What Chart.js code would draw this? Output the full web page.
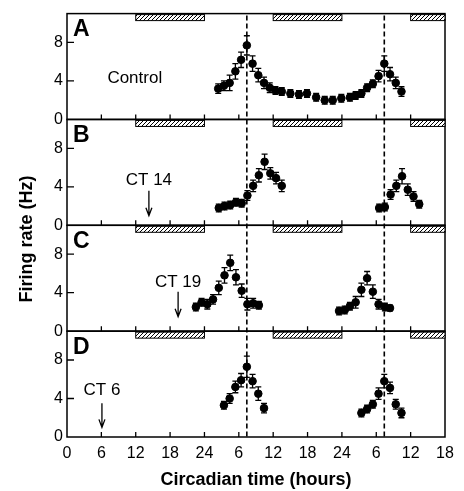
<!DOCTYPE html>
<html lang="en">
<head>
<meta charset="UTF-8">
<title>Firing rate vs circadian time</title>
<script src="https://cdn.jsdelivr.net/npm/chart.js"></script>
<style>
  html, body { margin: 0; padding: 0; background: #fff; }
  #wrap { width: 464px; height: 491px; position: relative; }
</style>
</head>
<body>
<div id="wrap"><canvas id="rateChart"></canvas></div>
<script>
// x axis is continuous time 0..66 h, labels wrap every 24 h
const hourTicks = [0, 6, 12, 18, 24, 30, 36, 42, 48, 54, 60, 66];
const hourLabels = ['0', '6', '12', '18', '24', '6', '12', '18', '24', '6', '12', '18'];
const rateTicks = [0, 4, 8];
const nightStart = [12, 36, 60];
const nightEnd = [24, 48, 66];
const peakLines = [31.4, 55.4];

// A - control
const ctrlTime = [26.4, 27.4, 28.4, 29.4, 30.4, 31.4, 32.4, 33.4, 34.4, 35.4, 36.4, 37.5,
  39.0, 40.5, 41.9, 43.5, 45.0, 46.4, 47.9, 49.4, 50.4, 51.4, 52.4, 53.4, 54.4, 55.4, 56.4, 57.4, 58.4];
const ctrlRate = [3.2, 3.5, 3.8, 5.0, 6.2, 7.7, 5.8, 4.6, 3.8, 3.3, 3.0, 2.9,
  2.7, 2.6, 2.7, 2.3, 2.0, 2.0, 2.2, 2.3, 2.5, 2.7, 3.3, 3.7, 4.5, 5.8, 4.7, 3.8, 2.9];
const ctrlErr = [0.5, 0.5, 0.8, 0.8, 0.8, 1.0, 0.8, 0.7, 0.6, 0.5, 0.4, 0.4,
  0.4, 0.4, 0.4, 0.4, 0.4, 0.4, 0.4, 0.4, 0.4, 0.4, 0.4, 0.4, 0.6, 0.8, 0.7, 0.6, 0.5];

// B - pulse at CT 14
const ct14Time = [26.5, 27.5, 28.5, 29.5, 30.5, 31.5, 32.5, 33.5, 34.5, 35.5, 36.5, 37.5,
  54.5, 55.5, 56.5, 57.5, 58.5, 59.5, 60.5, 61.5];
const ct14Rate = [1.8, 2.0, 2.1, 2.4, 2.3, 3.1, 4.1, 5.2, 6.6, 5.4, 4.9, 4.1,
  1.8, 1.9, 3.2, 4.1, 5.1, 3.7, 3.0, 2.2];
const ct14Err = [0.4, 0.4, 0.4, 0.4, 0.4, 0.5, 0.6, 0.7, 0.8, 0.6, 0.6, 0.6,
  0.4, 0.4, 0.5, 0.6, 0.8, 0.6, 0.5, 0.4];

// C - pulse at CT 19
const ct19Time = [22.5, 23.5, 24.5, 25.5, 26.5, 27.5, 28.5, 29.5, 30.5, 31.5, 32.5, 33.5,
  47.5, 48.5, 49.4, 50.4, 51.4, 52.4, 53.4, 54.4, 55.5, 56.4];
const ct19Rate = [2.5, 3.0, 2.8, 3.3, 4.5, 5.8, 7.1, 5.6, 4.2, 2.8, 2.9, 2.7,
  2.1, 2.2, 2.6, 3.0, 4.3, 5.5, 4.1, 2.8, 2.5, 2.4];
const ct19Err = [0.4, 0.4, 0.5, 0.5, 0.7, 0.8, 0.8, 0.8, 0.7, 0.6, 0.5, 0.4,
  0.4, 0.4, 0.4, 0.6, 0.7, 0.7, 0.7, 0.5, 0.4, 0.3];

// D - pulse at CT 6
const ct6Time = [27.4, 28.4, 29.4, 30.4, 31.4, 32.4, 33.4, 34.4,
  51.4, 52.4, 53.4, 54.4, 55.4, 56.4, 57.4, 58.4];
const ct6Rate = [3.3, 4.0, 5.2, 5.9, 7.3, 5.8, 4.5, 3.0,
  2.5, 2.9, 3.4, 4.5, 5.8, 5.1, 3.4, 2.5];
const ct6Err = [0.4, 0.5, 0.6, 0.7, 1.1, 0.7, 0.7, 0.5,
  0.4, 0.4, 0.4, 0.6, 0.7, 0.6, 0.5, 0.5];

const panelIds = ['yA', 'yB', 'yC', 'yD'];
const panelLetters = ['A', 'B', 'C', 'D'];
const panelNotes = ['Control', 'CT 14', 'CT 19', 'CT 6'];
const pulseAt = [null, 14.3, 19.4, 6.1];

const FONT = '"Liberation Sans", Arial, Helvetica, sans-serif';

function makeHatch(ctx) {
  const c = document.createElement('canvas');
  c.width = 4; c.height = 4;
  const g = c.getContext('2d');
  g.strokeStyle = '#000';
  g.lineWidth = 1;
  g.beginPath();
  g.moveTo(-1, 5); g.lineTo(5, -1);
  g.stroke();
  return ctx.createPattern(c, 'repeat');
}

function series(time, rate, err, axis) {
  return {
    data: time.map((t, i) => ({ x: t, y: rate[i] })),
    errors: err,
    yAxisID: axis,
    backgroundColor: '#000',
    borderColor: '#000',
    pointRadius: 3.8,
    pointHoverRadius: 3.8,
    showLine: false
  };
}

function yAxis() {
  return {
    type: 'linear',
    position: 'left',
    stack: 'panels',
    stackWeight: 1,
    min: 0,
    max: 11,
    grid: { display: false, drawTicks: false },
    border: { display: false },
    afterBuildTicks: s => { s.ticks = rateTicks.map(v => ({ value: v })); },
    afterFit: s => { s.width = 67; },
    ticks: { color: '#000', padding: 4, font: { family: FONT, size: 16 } }
  };
}

// frame, night bars, dashed lines, labels and error bars
const panelDecor = {
  id: 'panelDecor',
  beforeDatasetsDraw(chart) {
    const { ctx, chartArea, scales } = chart;
    const x = scales.x;
    const hatch = makeHatch(ctx);
    ctx.save();
    ctx.strokeStyle = '#000';
    ctx.fillStyle = '#000';

    ctx.lineWidth = 1.6;
    ctx.setLineDash([5, 3]);
    peakLines.forEach(t => {
      const px = x.getPixelForValue(t);
      ctx.beginPath();
      ctx.moveTo(px, chartArea.top + 2);
      ctx.lineTo(px, chartArea.bottom);
      ctx.stroke();
    });
    ctx.setLineDash([]);

    panelIds.forEach((id, i) => {
      const y = scales[id];
      ctx.lineWidth = 1.5;
      ctx.strokeRect(chartArea.left, y.top, chartArea.right - chartArea.left, y.bottom - y.top);

      nightStart.forEach((s, k) => {
        const x0 = x.getPixelForValue(s);
        const x1 = x.getPixelForValue(nightEnd[k]);
        ctx.fillStyle = '#fff';
        ctx.fillRect(x0, y.top + 1, x1 - x0, 6);
        ctx.fillStyle = hatch;
        ctx.fillRect(x0, y.top + 1, x1 - x0, 6);
        ctx.lineWidth = 1;
        ctx.strokeRect(x0, y.top + 1, x1 - x0, 6);
      });
      ctx.fillStyle = '#000';

      ctx.lineWidth = 1.3;
      ctx.beginPath();
      hourTicks.slice(1, -1).forEach(t => {
        const px = x.getPixelForValue(t);
        ctx.moveTo(px, y.bottom);
        ctx.lineTo(px, y.bottom - 5);
      });
      rateTicks.slice(1).forEach(v => {
        const py = y.getPixelForValue(v);
        ctx.moveTo(chartArea.left, py);
        ctx.lineTo(chartArea.left + 7, py);
      });
      ctx.stroke();

      ctx.font = 'bold 23px ' + FONT;
      ctx.textAlign = 'left';
      ctx.textBaseline = 'alphabetic';
      ctx.fillText(panelLetters[i], chartArea.left + 6, y.top + 22.5);

      ctx.font = '17px ' + FONT;
      ctx.textBaseline = 'middle';
      if (pulseAt[i] === null) {
        ctx.fillText(panelNotes[i], x.getPixelForValue(7.05), y.getPixelForValue(4.25));
      } else {
        const ax = x.getPixelForValue(pulseAt[i]);
        const labelY = [0, 4.7, 5.1, 4.8][i];
        const top = [0, 3.6, 4.1, 3.5][i];
        const tip = [0, 1.0, 1.5, 1.0][i];
        ctx.textAlign = 'center';
        ctx.fillText(panelNotes[i], ax, y.getPixelForValue(labelY));
        const y0 = y.getPixelForValue(top);
        const y1 = y.getPixelForValue(tip);
        ctx.lineWidth = 1.3;
        ctx.beginPath();
        ctx.moveTo(ax, y0);
        ctx.lineTo(ax, y1);
        ctx.moveTo(ax - 3, y1 - 8);
        ctx.lineTo(ax, y1);
        ctx.lineTo(ax + 3, y1 - 8);
        ctx.stroke();
      }
    });

    // y axis title
    ctx.save();
    ctx.translate(27, 239);
    ctx.rotate(-Math.PI / 2);
    ctx.font = 'bold 18px ' + FONT;
    ctx.textAlign = 'center';
    ctx.textBaseline = 'middle';
    ctx.fillText('Firing rate (Hz)', 0, 0);
    ctx.restore();
    ctx.restore();
  },
  afterDatasetsDraw(chart) {
    const { ctx, scales } = chart;
    const x = scales.x;
    ctx.save();
    ctx.strokeStyle = '#000';
    ctx.lineWidth = 1.3;
    chart.data.datasets.forEach(ds => {
      const y = scales[ds.yAxisID];
      ds.data.forEach((p, j) => {
        const e = ds.errors[j];
        const px = x.getPixelForValue(p.x);
        const hi = y.getPixelForValue(p.y + e);
        const lo = y.getPixelForValue(p.y - e);
        ctx.beginPath();
        ctx.moveTo(px, hi); ctx.lineTo(px, lo);
        ctx.moveTo(px - 3, hi); ctx.lineTo(px + 3, hi);
        ctx.moveTo(px - 3, lo); ctx.lineTo(px + 3, lo);
        ctx.stroke();
      });
    });
    ctx.restore();
  }
};

new Chart(document.getElementById('rateChart'), {
  type: 'scatter',
  data: {
    datasets: [
      series(ctrlTime, ctrlRate, ctrlErr, 'yA'),
      series(ct14Time, ct14Rate, ct14Err, 'yB'),
      series(ct19Time, ct19Rate, ct19Err, 'yC'),
      series(ct6Time, ct6Rate, ct6Err, 'yD')
    ]
  },
  options: {
    responsive: true,
    maintainAspectRatio: false,
    animation: false,
    events: [],
    layout: { padding: { top: 12, right: 19, left: 0, bottom: 0 } },
    plugins: { legend: { display: false }, tooltip: { enabled: false } },
    scales: {
      // stacked axes are placed bottom-up, so the lowest panel comes first
      yD: yAxis(),
      yC: yAxis(),
      yB: yAxis(),
      yA: yAxis(),
      x: {
        type: 'linear',
        position: 'bottom',
        min: 0,
        max: 66,
        grid: { display: false, drawTicks: false },
        border: { display: false },
        afterBuildTicks: s => { s.ticks = hourTicks.map(v => ({ value: v })); },
        afterFit: s => { s.height = 54; },
        ticks: {
          color: '#000',
          padding: 7,
          maxRotation: 0,
          autoSkip: false,
          font: { family: FONT, size: 16 },
          callback: (v, i) => hourLabels[i]
        },
        title: {
          display: true,
          text: 'Circadian time (hours)',
          color: '#000',
          font: { family: FONT, size: 18, weight: 'bold' },
          padding: { top: 0, bottom: 0 }
        }
      }
    }
  },
  plugins: [panelDecor]
});
</script>
</body>
</html>
